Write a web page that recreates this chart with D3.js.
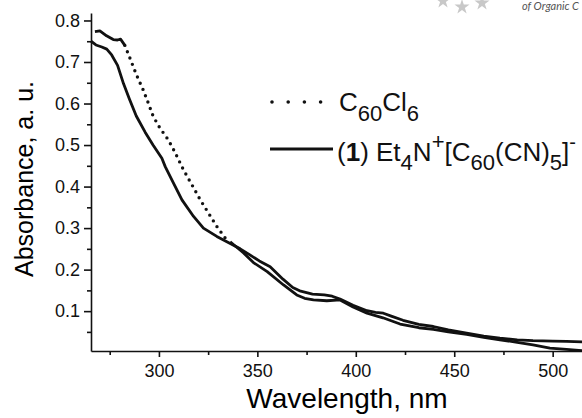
<!DOCTYPE html>
<html>
<head>
<meta charset="utf-8">
<script src="https://cdn.jsdelivr.net/npm/d3@7"></script>
<style>
    body { margin: 0; background: #fff; }
    svg { display: block; font-family: "Liberation Sans", Arial, sans-serif; }
    .axis path, .axis line { stroke: #111; stroke-width: 1.6px; }
    .axis text { font-size: 18px; fill: #111; font-family: "Liberation Sans", Arial, sans-serif; }
</style>
</head>
<body>
<div id="chart"></div>
<script>
// wavelength (nm), absorbance (a.u.)
const cn5Wave = [265.5, 268, 271, 273.5, 276, 279, 282, 285, 288.5, 293, 297, 301.5, 303.2, 307.4, 311.7, 317.6, 322.6, 329.4, 334.5, 341.3, 346, 351, 356.5, 363, 368, 372, 378, 384, 388, 392, 398.6, 405.7, 410, 414, 418, 424, 432, 439.4, 447, 456.3, 465, 473.2, 482, 490, 500, 507, 515];
const cn5Abs  = [0.750, 0.741, 0.736, 0.731, 0.717, 0.692, 0.648, 0.611, 0.570, 0.531, 0.500, 0.468, 0.448, 0.408, 0.368, 0.328, 0.300, 0.280, 0.267, 0.250, 0.236, 0.221, 0.207, 0.177, 0.157, 0.148, 0.141, 0.139, 0.136, 0.129, 0.114, 0.101, 0.097, 0.095, 0.088, 0.078, 0.068, 0.063, 0.055, 0.047, 0.040, 0.035, 0.031, 0.029, 0.028, 0.027, 0.026];

const cl6Wave = [267.5, 270, 273.4, 276.8, 279, 280.5, 282.7, 285.3, 288.6, 292, 294.6, 297.1, 300.5, 304.7, 308, 312.5, 316.8, 321, 325.2, 329.4, 333.7, 336.2, 343, 348, 355, 363.3, 370, 374, 378.5, 385.3, 392, 398.6, 405.7, 413.8, 422.5, 432, 439.4, 447, 456.3, 465, 473.2, 482, 490, 498.6, 507, 515];
const cl6Abs  = [0.773, 0.775, 0.763, 0.754, 0.753, 0.755, 0.740, 0.709, 0.669, 0.633, 0.601, 0.569, 0.541, 0.513, 0.484, 0.440, 0.404, 0.368, 0.336, 0.304, 0.276, 0.267, 0.240, 0.217, 0.195, 0.163, 0.139, 0.131, 0.127, 0.125, 0.127, 0.110, 0.095, 0.084, 0.069, 0.060, 0.056, 0.050, 0.044, 0.037, 0.031, 0.025, 0.019, 0.011, 0.008, 0.005];

const xTicks = [300, 350, 400, 450, 500];
const xMinor = [275, 325, 375, 425, 475];
const yTicks = [0.1, 0.2, 0.3, 0.4, 0.5, 0.6, 0.7, 0.8];
const yMinor = [0.05, 0.15, 0.25, 0.35, 0.45, 0.55, 0.65, 0.75];

const width = 582, height = 418;
const margin = {top: 13, right: 0, bottom: 67, left: 91};

const svg = d3.select("#chart").append("svg")
    .attr("width", width)
    .attr("height", height);

const x = d3.scaleLinear()
    .domain([265.5, 514.9])
    .range([margin.left, width - margin.right]);

const y = d3.scaleLinear()
    .domain([0.004, 0.818])
    .range([height - margin.bottom, margin.top]);

const cn5 = cn5Wave.map((w, i) => [w, cn5Abs[i]]);
const cl6 = cl6Wave.map((w, i) => [w, cl6Abs[i]]);

// axes
svg.append("g")
    .attr("class", "axis")
    .attr("transform", `translate(0,${height - margin.bottom})`)
    .call(d3.axisBottom(x).tickValues(xTicks).tickSize(6).tickSizeOuter(0).tickPadding(7));

svg.append("g")
    .attr("class", "axis")
    .attr("transform", `translate(0,${height - margin.bottom})`)
    .call(d3.axisBottom(x).tickValues(xMinor).tickSize(4).tickFormat(""))
    .select(".domain").remove();

svg.append("g")
    .attr("class", "axis")
    .attr("transform", `translate(${margin.left},0)`)
    .call(d3.axisLeft(y).tickValues(yTicks).tickSize(7).tickSizeOuter(0).tickPadding(4).tickFormat(d3.format(".1f")));

svg.append("g")
    .attr("class", "axis")
    .attr("transform", `translate(${margin.left},0)`)
    .call(d3.axisLeft(y).tickValues(yMinor).tickSize(4).tickFormat(""))
    .select(".domain").remove();

// axis titles
svg.append("text")
    .attr("x", 347)
    .attr("y", 408)
    .attr("text-anchor", "middle")
    .style("font-size", "28px")
    .text("Wavelength, nm");

svg.append("text")
    .attr("transform", "translate(33,179) rotate(-90)")
    .attr("text-anchor", "middle")
    .style("font-size", "25px")
    .text("Absorbance, a. u.");

// curves
const line = d3.line()
    .x(d => x(d[0]))
    .y(d => y(d[1]));

const plot = svg.append("g");

plot.append("path")
    .datum(cn5)
    .attr("d", line)
    .attr("fill", "none")
    .attr("stroke", "#111")
    .attr("stroke-width", 2.8)
    .attr("stroke-linejoin", "round");

// C60Cl6: measured points look solid where they crowd together, dotted on the steep slope
[cl6.filter(d => d[0] <= 282.7), cl6.filter(d => d[0] >= 336.2)].forEach(part => {
    plot.append("path")
        .datum(part)
        .attr("d", line)
        .attr("fill", "none")
        .attr("stroke", "#111")
        .attr("stroke-width", 2.8)
        .attr("stroke-linejoin", "round");
});

plot.append("path")
    .datum(cl6.filter(d => d[0] >= 282.7 && d[0] <= 336.2))
    .attr("d", line)
    .attr("fill", "none")
    .attr("stroke", "#111")
    .attr("stroke-width", 3.4)
    .attr("stroke-linecap", "round")
    .attr("stroke-dasharray", "0,6.8");

// legend
const legend = svg.append("g").style("fill", "#111");

legend.append("line")
    .attr("x1", 272).attr("x2", 321)
    .attr("y1", 102).attr("y2", 102)
    .attr("stroke", "#111")
    .attr("stroke-width", 3.6)
    .attr("stroke-linecap", "round")
    .attr("stroke-dasharray", "0,16.2");

legend.append("line")
    .attr("x1", 270).attr("x2", 333)
    .attr("y1", 149).attr("y2", 149)
    .attr("stroke", "#111")
    .attr("stroke-width", 3.2);

const t1 = legend.append("text")
    .attr("x", 339)
    .attr("y", 111)
    .style("font-size", "26px");
t1.append("tspan").text("C");
t1.append("tspan").attr("dy", 10).style("font-size", "22px").text("60");
t1.append("tspan").attr("dy", -10).text("Cl");
t1.append("tspan").attr("dy", 10).style("font-size", "22px").text("6");

const t2 = legend.append("text")
    .attr("x", 337)
    .attr("y", 161)
    .style("font-size", "26px");
t2.append("tspan").text("(");
t2.append("tspan").style("font-weight", "bold").text("1");
t2.append("tspan").text(") Et");
t2.append("tspan").attr("dy", 9).style("font-size", "22px").text("4");
t2.append("tspan").attr("dy", -9).text("N");
t2.append("tspan").attr("dy", -12).style("font-size", "22px").text("+");
t2.append("tspan").attr("dy", 12).text("[C");
t2.append("tspan").attr("dy", 9).style("font-size", "22px").text("60");
t2.append("tspan").attr("dy", -9).text("(CN)");
t2.append("tspan").attr("dy", 9).style("font-size", "22px").text("5");
t2.append("tspan").attr("dy", -9).text("]");
t2.append("tspan").attr("dy", -12).style("font-size", "20px").text("-");

// journal watermark in the corner
const stars = [[443, 1], [462, 7], [482, 3]];
svg.append("g").selectAll("path")
    .data(stars)
    .join("path")
    .attr("transform", d => `translate(${d[0]},${d[1]})`)
    .attr("d", d3.symbol(d3.symbolStar, 70))
    .attr("fill", "#c8c8c8");

svg.append("text")
    .attr("x", 579)
    .attr("y", 10)
    .attr("text-anchor", "end")
    .style("font-family", "Lato, sans-serif")
    .style("font-style", "italic")
    .style("font-size", "11px")
    .style("fill", "#555")
    .text("of Organic C");
</script>
</body>
</html>
